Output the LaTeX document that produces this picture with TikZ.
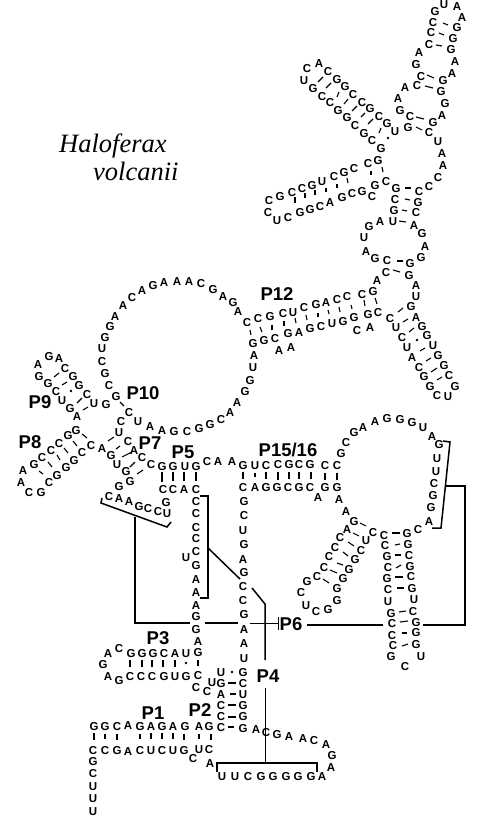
\documentclass[tikz,border=0pt]{standalone}
\usepackage{fontspec}
\setmainfont{Liberation Sans}
\newfontfamily\titlefont{Liberation Serif}
\tikzset{
  base/.style={inner sep=0pt,font=\bfseries\fontsize{11.5}{11.5}\selectfont},
  helixname/.style={inner sep=0pt,font=\bfseries\fontsize{18.5}{18.5}\selectfont},
  species/.style={inner sep=0pt,anchor=base west,font=\titlefont\itshape\fontsize{26.5}{26.5}\selectfont},
  pair/.style={line width=1.1pt},
  thickline/.style={line width=1.5pt},
  thinline/.style={line width=0.7pt}
}
\newcommand{\strand}[2]{\foreach \x/\y/\nt [count=\i] in {#2} \node[base] (#1\i) at (\x,\y) {\nt};}
\newcommand{\pairs}[1]{\foreach \xa/\ya/\xb/\yb in {#1} \draw[pair] (\xa,\ya) -- (\xb,\yb);}
\begin{document}
\begin{tikzpicture}[x=1pt,y=-1pt]
    \useasboundingbox (0,0) rectangle (477,821);
    % title
    \node[species] (genus) at (59,153) {Haloferax};
    \node[species] (epithet) at (93,180) {volcanii};
    % helix names
    \node[helixname] (p1) at (153,713) {P1};
    \node[helixname] (p2) at (200,710) {P2};
    \node[helixname] (p3) at (158,638) {P3};
    \node[helixname] (p4) at (268,676) {P4};
    \node[helixname] (p5) at (183,452) {P5};
    \node[helixname] (p6) at (291,624) {P6};
    \node[helixname] (p7) at (150,443) {P7};
    \node[helixname] (p8) at (30,442) {P8};
    \node[helixname] (p9) at (40,402) {P9};
    \node[helixname] (p10) at (143,393) {P10};
    \node[helixname] (p12) at (277,294) {P12};
    \node[helixname] (p15) at (288,450) {P15/16};
    % top domain
    \strand{t}{435/12/G,444/5/U,457/7/A,462/18/A,457/28/G,433/23/C,431/33/C,453/39/G,429/45/C,451/50/G,
      455/62/A,452/74/A,443/81/G,421/77/C,417/86/C,441/92/G,445/104/G,442/116/A,433/123/G,410/117/C,
      400/111/G,398/99/A,405/88/A,416/65/G,419/53/A,408/128/G,429/133/C,438/142/U,442/154/A,443/166/A,
      438/178/C,429/187/C,419/192/C,396/189/G,386/182/C,375/186/G,372/197/C}
    \strand{l}{319/64/A,307/69/C,304/81/U,328/72/C,337/80/G,345/87/G,353/95/C,362/103/C,370/109/G,379/117/C,
      387/124/G,395/132/U,313/89/G,322/97/C,330/103/C,338/111/G,347/118/G,355/126/C,364/134/G,372/141/C,
      381/149/G,378/161/G,368/164/C}
    \strand{s}{269/201/C,280/197/G,292/193/C,302/189/C,312/186/G,322/182/U,334/177/C,344/173/G,354/169/C,
      268/213/C,277/221/U,288/218/C,300/213/G,310/210/G,320/207/C,330/203/A,342/198/G,352/194/C,362/192/G}
    \strand{m}{395/200/C,418/203/G,394/211/G,416/213/C,393/222/U,414/226/A,422/234/G,425/247/A,421/258/G,
      410/264/G,409/276/G,387/261/C,386/273/C,377/281/A,380/222/A,369/227/G,364/238/U,366/252/A,375/259/G}
    \strand{d}{247/323/C,258/319/C,270/317/G,283/314/C,293/313/U,304/308/C,316/305/G,326/303/A,337/300/C,
      347/297/C,362/295/C,373/292/G,253/344/G,264/341/G,275/339/C,288/334/G,299/333/A,310/329/G,321/327/C,
      332/324/U,343/322/G,354/318/G,368/315/G,378/313/C,357/331/C,370/328/A,279/351/A,291/348/A,
      254/356/A,253/368/U,250/381/G,245/392/G}
    \strand{h}{390/319/C,396/328/U,402/338/C,407/348/U,412/358/A,419/368/C,424/377/G,430/387/G,437/396/C,
      448/397/U,455/387/G,449/376/C,444/366/G,438/356/G,433/346/U,427/336/G,422/327/G,416/318/A,411/307/G,
      416/297/U,416/286/A}
    % big loop
    \strand{b}{238/312/A,233/303/G,223/297/A,213/290/G,201/284/C,189/282/A,177/282/A,164/283/A,153/286/G,
      142/291/A,132/298/C,123/306/A,115/317/A,110/327/G,105/338/G,102/349/U,102/362/C,105/374/G,109/386/C,
      116/397/G,106/405/G,121/422/C,129/413/C,138/422/U,150/427/A,162/431/A,174/432/G,187/432/C,199/429/G,
      210/425/G,221/420/C,230/413/A,237/403/A}
    \strand{e}{38/365/A,49/357/G,59/359/A,65/369/C,73/377/G,79/386/G,87/395/C,94/404/U,39/377/G,48/384/G,
      56/392/C,62/401/U,70/409/G,77/417/A,76/431/G,68/436/G,59/444/C,51/451/C,42/458/C,34/465/G,23/471/A,
      21/483/A,29/493/C,41/493/G,49/483/C,57/476/G,66/468/G,74/461/G,82/453/C,91/446/C,102/449/A,111/456/G,
      117/465/U,126/472/G,130/482/G,119/487/G,119/433/U,128/442/C,134/451/A,142/458/C,151/465/C}
    \strand{f}{162/467/G,173/467/G,185/467/U,196/467/G,207/462/C,218/462/A,232/462/A,163/490/C,173/490/C,
      184/490/A,196/490/C,166/503/G,167/514/U,158/512/C,148/509/C,139/507/G,129/502/A,119/499/A,109/497/C,
      196/502/C,196/514/C,196/528/C,196/539/C,196/552/C,186/558/U,196/566/G,196/580/A,196/593/A,196/606/A,
      196/617/G,196/630/G,198/642/A,198/653/G}
    % P15/16 and right domain
    \strand{g}{243/466/G,255/466/U,266/466/C,278/465/C,289/465/G,299/465/C,310/465/G,325/466/C,337/466/C,
      341/454/G,346/443/C,354/433/G,363/428/A,375/422/A,387/419/G,400/420/G,412/423/G,423/428/U,432/437/A,
      439/445/G,437/459/U,436/472/U,434/484/C,433/496/G,431/508/G,429/522/A,418/530/C,407/534/G,384/536/C,
      373/533/C,354/522/G,346/512/A,339/500/A,337/488/G,325/488/G,318/498/A,310/488/C,299/488/G,288/488/C,
      277/488/G,266/488/G,255/488/A,243/488/C}
    \strand{k}{347/530/A,340/538/C,335/548/C,329/557/C,324/568/C,317/577/C,307/582/G,301/593/C,306/606/U,
      316/612/C,328/610/G,337/601/G,337/589/G,343/579/G,349/570/G,355/560/G,361/551/C,366/541/U}
    \strand{r}{385/546/C,408/545/G,387/557/G,409/556/C,388/568/C,410/567/G,387/579/G,411/577/C,388/590/C,
      412/589/G,388/602/U,414/600/U,391/614/G,413/612/C,392/624/C,416/623/G,392/636/C,416/633/G,393/646/C,
      416/645/G,391/657/G,405/667/C,421/657/U}
    \strand{c}{244/502/G,244/516/C,243/531/U,244/545/G,243/560/A,244/573/G,243/587/C,243/601/C,244/615/G,
      244/630/A,244/644/A,244/659/U,243/673/G,243/684/C,243/695/U,243/706/G,243/717/G,243/729/G,221/673/U,
      221/684/G,221/695/A,221/706/C,221/717/C,221/728/C,212/683/U,207/692/C,196/688/C}
    % P3, P1 and the 3' end
    \strand{q}{108/654/A,119/649/C,131/654/G,142/654/G,153/654/G,164/654/C,175/654/A,186/654/U,103/665/G,
      108/677/A,119/681/G,130/677/C,141/677/C,152/677/C,164/677/G,175/677/U,186/677/G,198/676/C}
    \strand{a}{256/730/A,266/733/C,277/735/G,289/737/A,303/739/A,314/741/C,326/745/A,332/756/G,331/768/A,
      322/777/A,311/777/G,298/777/G,286/777/G,273/777/G,261/777/G,248/777/C,235/777/U,222/777/U,210/764/A,
      209/750/C,199/750/U,193/759/C,184/751/G,173/751/U,162/751/C,151/751/U,140/751/C,128/752/A,117/751/G,
      105/751/C,93/751/C,93/762/G,93/774/C,93/787/U,93/799/U,93/812/U,94/727/G,105/727/G,117/727/C,128/726/A,
      140/727/G,151/727/A,162/727/G,173/727/A,185/727/G,199/727/A,209/727/G}
    % base pairs
    \pairs{318/82/323/77,326/88/331/83,337/97/339/92,344/104/348/99,352/111/357/106,361/117/365/113,
      368/124/373/119,379/133/381/128,443/23/448/25,439/33/444/35,436/45/442/46,427/75/434/78,425/86/433/88,
      416/117/424/119,416/127/422/130,315/190/315/195,326/188/326/192,337/184/337/188,347/178/348/183,
      371/171/371/175,382/167/383/172,295/197/295/203,305/193/305/198,405/188/411/188,405/199/410/200,
      402/210/407/211,399/221/406/222,397/261/403/261,393/270/400/272,250/330/251/335,260/327/262/332,
      272/325/272/330,284/321/284/326,295/318/296/323,306/315/307/320,318/313/318/317,328/310/329/314,
      339/307/340/312,351/305/352/309,364/300/365/306,375/298/377/304,398/312/403/308,403/322/408/319,
      409/332/414/328,420/351/425/348,426/361/431/358,431/372/437/368,437/380/442/377,120/402/124/406,
      54/377/59/373,62/385/67/382,77/403/82/398,83/410/88/407,39/471/43/474,48/462/52/467,57/455/60/460,
      64/448/68/453,73/441/77/446,82/434/87/438,108/441/114/437,116/449/120/446,122/457/132/452,130/467/135/462,
      137/474/143/470,162/472/162/482,173/472/173/481,184/472/184/481,196/472/196/481,243/472/243/479,
      255/473/255/477,266/472/266/479,278/472/278/480,289/472/289/479,299/472/299/479,311/472/311/479,
      325/473/325/480,337/473/337/480,360/523/366/526,353/533/359/536,348/542/354/546,343/552/348/556,
      337/563/343/565,330/570/337/573,323/579/329/583,392/533/400/533,395/545/400/544,395/555/401/555,
      396/568/401/565,395/577/403/577,397/588/404/588,399/612/406/611,400/622/408/621,402/633/407/633,
      402/646/408/644,130/660/130/667,142/660/142/667,152/660/152/667,163/660/163/667,175/660/175/667,
      198/660/198/666,228/683/236/683,230/694/236/694,228/705/236/705,228/717/236/717,228/727/234/727,
      94/733/94/740,105/734/105/739,117/734/117/740,140/734/140/739,151/733/151/739,162/733/162/739,
      173/733/173/739,184/734/184/740,199/734/199/739,211/734/211/740}
    \foreach \x/\y in {388/138,417/340,71/391,186/663,232/672} \fill (\x,\y) circle (1.4);
    % pseudoknot lines
    \draw[thickline] (102,498) -- (101,503) -- (167,527) -- (171,522);
    \draw[thickline] (135,517) -- (135,623) -- (190,623);
    \draw[thickline] (205,623) -- (238,623);
    \draw[thinline] (250,623) -- (278,623);
    \draw[thinline] (278,617) -- (278,630);
    \draw[thickline] (307,625) -- (383,625);
    \draw[thickline] (423,625) -- (465,625) -- (465,486) -- (446,486);
    \draw[thickline] (443,441) -- (450,442) -- (441,528) -- (432,528);
    \draw[thickline] (200,496) -- (208,496) -- (208,598) -- (200,598);
    \draw[thickline] (208,548) -- (240,579);
    \draw[thickline] (252,588) -- (265,604) -- (265,660);
    \draw[thinline] (265,688) -- (265,763);
    \draw[thickline] (217,772) -- (217,763) -- (317,763) -- (317,772);
\end{tikzpicture}
\end{document}
